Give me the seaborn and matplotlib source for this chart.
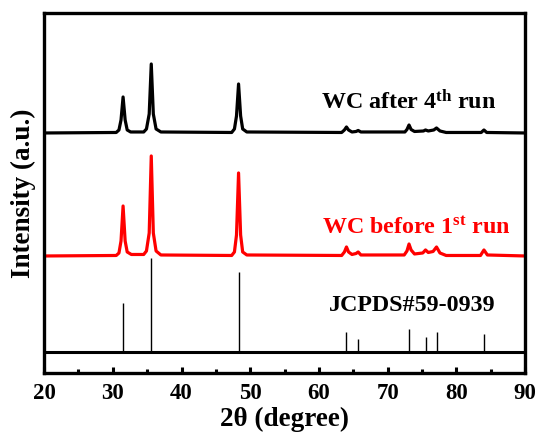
import matplotlib
matplotlib.use("Agg")
import matplotlib.pyplot as plt
import seaborn as sns
import pandas as pd

# XRD pattern of WC after the 4th run (offset trace, arbitrary units)
after_x = [20, 30.5, 30.9, 31.2, 31.5, 31.8, 32.1, 32.6, 34.5, 34.9, 35.3, 35.6, 35.9, 36.3, 37.0,
           47.3, 47.7, 48.0, 48.3, 48.6, 48.9, 49.5, 63.3, 63.7, 64.0, 64.3, 64.8, 65.4, 65.7, 66.1,
           72.5, 72.8, 73.1, 73.4, 73.9, 75.2, 75.5, 75.9, 76.7, 77.1, 77.6, 78.5, 83.6, 84.0, 84.4, 90]
after_y = [240, 240.5, 243, 253, 276, 253, 243, 241, 241, 244, 259, 309, 259, 244, 241,
           240.5, 244, 257, 289, 257, 244, 241, 240.5, 243, 246, 243, 241, 241.5, 242.5, 241,
           241, 243.5, 248, 243.5, 241.5, 242, 243, 242, 243, 245, 242, 240.5, 240.5, 243, 240.5, 240]

# XRD pattern of WC before the 1st run
before_x = [20, 30.5, 30.9, 31.2, 31.5, 31.8, 32.1, 32.7, 34.5, 34.9, 35.3, 35.6, 35.9, 36.3, 37.0,
            47.3, 47.7, 48.0, 48.3, 48.6, 48.9, 49.5, 63.3, 63.7, 64.0, 64.3, 64.8, 65.4, 65.7, 66.1,
            72.4, 72.8, 73.1, 73.4, 73.9, 75.1, 75.5, 75.9, 76.6, 77.1, 77.6, 78.5, 83.5, 84.0, 84.5, 90]
before_y = [117, 117.5, 120, 132, 167, 132, 121, 118.5, 118.5, 122, 140, 217, 140, 122, 118,
            117.5, 121, 138, 200, 138, 121, 118, 117.5, 121, 126, 121, 118.5, 119.5, 121, 118,
            118, 122, 129, 123, 119, 120, 123, 120.5, 121.5, 126, 120, 117.5, 117.5, 123, 118, 117]

# Reference pattern JCPDS#59-0939
ref_pos = [31.5, 35.6, 48.3, 64.0, 65.7, 73.1, 75.5, 77.1, 84.0]
ref_top = [70, 115, 101, 41, 34, 44, 36, 41, 39]
ref_base = 21

sns.set_style("ticks", {"axes.edgecolor": "black", "xtick.color": "black",
                        "text.color": "black", "axes.labelcolor": "black"})
plt.rcParams["font.family"] = ["Liberation Serif", "DejaVu Serif"]
plt.rcParams["font.weight"] = "bold"
plt.rcParams["mathtext.fontset"] = "custom"
plt.rcParams["mathtext.rm"] = "Liberation Serif:bold"
plt.rcParams["mathtext.it"] = "Liberation Serif:bold"
plt.rcParams["mathtext.bf"] = "Liberation Serif:bold"

fig = plt.figure(figsize=(5.37, 4.34), dpi=100)
ax = fig.add_axes([0.082, 0.1406, 0.896, 0.8295])

df_after = pd.DataFrame({"two_theta": after_x, "intensity": after_y})
df_before = pd.DataFrame({"two_theta": before_x, "intensity": before_y})
sns.lineplot(data=df_after, x="two_theta", y="intensity", color="black", lw=2.3, ax=ax,
             sort=False, estimator=None)
sns.lineplot(data=df_before, x="two_theta", y="intensity", color="#ff0000", lw=2.3, ax=ax,
             sort=False, estimator=None)

ax.vlines(ref_pos, ref_base, ref_top, color="black", lw=1.0)
ax.axhline(ref_base, color="black", lw=2.2)

ax.set_xlim(20, 90)
ax.set_ylim(0, 360)
ax.set_xticks(range(20, 91, 10))
ax.set_xticks(range(25, 90, 10), minor=True)
ax.set_yticks([])
ax.tick_params(axis="x", which="major", direction="in", length=4, width=2.2, labelsize=16.5,
               pad=7, colors="black")
ax.tick_params(axis="x", which="minor", direction="in", length=3, width=2.2, colors="black")
for lab in ax.get_xticklabels():
    lab.set_fontweight("bold")
for sp in ax.spines.values():
    sp.set_linewidth(2.4)
    sp.set_color("black")
    sp.set_visible(True)

ax.set_xlabel("2θ (degree)", fontsize=19.5, fontweight="bold", labelpad=2, color="black")
ax.set_ylabel("Intensity (a.u.)", fontsize=19.5, fontweight="bold", labelpad=6, color="black")

ax.text(73.1, 264, r"WC after 4$^{\mathrm{th}}$ run", fontsize=17.3, fontweight="bold",
        color="black", ha="center", va="baseline")
ax.text(74.2, 139, r"WC before 1$^{\mathrm{st}}$ run", fontsize=17.3, fontweight="bold",
        color="#ff0000", ha="center", va="baseline")
ax.text(73.6, 62, "JCPDS#59-0939", fontsize=17.3, fontweight="bold",
        color="black", ha="center", va="baseline")

fig.savefig("out.png", dpi=100)
